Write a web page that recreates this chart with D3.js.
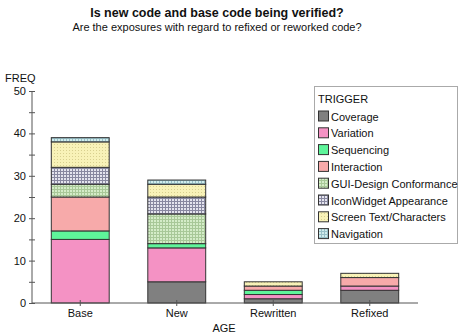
<!DOCTYPE html>
<html><head><meta charset="utf-8">
<script src="https://cdn.jsdelivr.net/npm/d3@7"></script>
<style>body{margin:0;background:#fff}svg{font-family:Arial,"Liberation Sans",sans-serif}</style>
</head><body><svg id="c" width="466" height="333"></svg>
<script>
const categories = ["Base","New","Rewritten","Refixed"];
const triggers = ["Coverage","Variation","Sequencing","Interaction","GUI-Design Conformance","IconWidget Appearance","Screen Text/Characters","Navigation"];
const coverage    = [0,5,1,3];
const variation   = [15,8,1,1];
const sequencing  = [2,1,1,0];
const interaction = [8,0,1,2];
const guiDesign   = [3,7,0,0];
const iconWidget  = [4,4,0,0];
const screenText  = [6,3,1,1];
const navigation  = [1,1,0,0];
const yTicks = [0,10,20,30,40,50];

const seriesVals = [coverage,variation,sequencing,interaction,guiDesign,iconWidget,screenText,navigation];
const rows = categories.map((c,i)=>{const o={cat:c}; triggers.forEach((t,j)=>o[t]=seriesVals[j][i]); return o;});

const svg = d3.select("#c");
const defs = svg.append("defs");
function gridPat(id,bg,line,step,dotted){
  const p = defs.append("pattern").attr("id",id).attr("patternUnits","userSpaceOnUse").attr("width",step).attr("height",step);
  p.append("rect").attr("width",step).attr("height",step).attr("fill",bg);
  if(dotted){
    p.append("rect").attr("x",0).attr("y",0).attr("width",1).attr("height",1).attr("fill",line);
  } else {
    p.append("rect").attr("x",0).attr("y",0).attr("width",step).attr("height",1).attr("fill",line);
    p.append("rect").attr("x",0).attr("y",0).attr("width",1).attr("height",step).attr("fill",line);
  }
}
gridPat("pGui","#d4ecc8","#a8c898",3,false);
gridPat("pIcon","#e4e4ee","#8888a0",3,false);
gridPat("pScreen","#f8f2b8","#d8d090",3,true);
gridPat("pNav","#d0ecec","#98c0c8",3,false);
const fills = ["#808080","#f492c4","#5ef59a","#f7aaaa","url(#pGui)","url(#pIcon)","url(#pScreen)","url(#pNav)"];
const color = d3.scaleOrdinal().domain(triggers).range(fills);

const x = d3.scaleBand().domain(categories).range([32,418]).paddingInner(0.4).paddingOuter(0.2);
const y = d3.scaleLinear().domain([0,50]).range([303,91]);

// title
svg.append("text").attr("x",217).attr("y",17).attr("text-anchor","middle").attr("font-size",12.5).attr("font-weight","bold").attr("fill","#111").text("Is new code and base code being verified?");
svg.append("text").attr("x",217).attr("y",31).attr("text-anchor","middle").attr("font-size",11).attr("fill","#111").text("Are the exposures with regard to refixed or reworked code?");

const stack = d3.stack().keys(triggers)(rows);
const g = svg.append("g");
stack.forEach(s=>{
  g.append("g").attr("fill",color(s.key)).selectAll("rect").data(s.filter(d=>d[1]>d[0])).join("rect")
    .attr("x",d=>x(d.data.cat)).attr("width",x.bandwidth())
    .attr("y",d=>y(d[1])).attr("height",d=>y(d[0])-y(d[1]))
    .attr("stroke","#333").attr("stroke-width",1);
});

// y axis
const ya = svg.append("g").attr("transform","translate(32,0)")
  .call(d3.axisLeft(y).tickValues(d3.range(0,51,5)).tickSize(3).tickFormat(d=>yTicks.includes(d)?d:""));
ya.selectAll(".tick line").attr("x1",-3).attr("x2",3).attr("stroke","#555");
ya.select(".domain").attr("stroke","#555").attr("d","M0,91V303");
ya.selectAll("text").attr("font-size",11).attr("fill","#111").attr("x",-6).style("font-family","Arial,'Liberation Sans',sans-serif");

// x axis
const xa = svg.append("g").attr("transform","translate(0,303)")
  .call(d3.axisBottom(x).tickSize(3).tickSizeOuter(0));
xa.selectAll(".tick line").attr("y1",-3).attr("y2",3).attr("stroke","#555");
xa.select(".domain").attr("stroke","#555").attr("d","M32,0H418");
xa.selectAll("text").attr("font-size",11).attr("fill","#111").attr("y",6).style("font-family","Arial,'Liberation Sans',sans-serif");

svg.append("text").attr("x",5).attr("y",82).attr("font-size",11).attr("fill","#111").text("FREQ");
svg.append("text").attr("x",224).attr("y",332).attr("text-anchor","middle").attr("font-size",11).attr("fill","#111").text("AGE");

// legend
const lg = svg.append("g");
lg.append("rect").attr("x",314.5).attr("y",86.5).attr("width",143).attr("height",157).attr("fill","#fff").attr("stroke","#aaa");
lg.append("text").attr("x",318).attr("y",103).attr("font-size",11).attr("fill","#111").text("TRIGGER");
triggers.forEach((t,i)=>{
  const yy = 110.5 + i*16.8;
  lg.append("rect").attr("x",318.5).attr("y",yy+0.5).attr("width",10).attr("height",10).attr("fill",color(t)).attr("stroke","#333");
  lg.append("text").attr("x",331).attr("y",yy+10).attr("font-size",11).attr("fill","#111").text(t);
});
</script></body></html>
